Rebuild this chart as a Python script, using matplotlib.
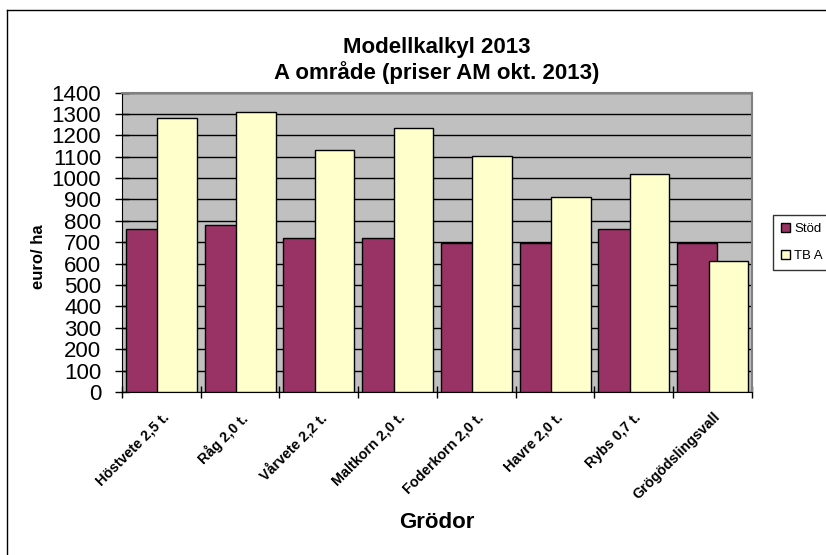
import matplotlib.pyplot as plt
import numpy as np

plt.rcParams['font.family'] = ['Liberation Sans', 'DejaVu Sans']

grodor = ['Höstvete 2,5 t.', 'Råg 2,0 t.', 'Vårvete 2,2 t.', 'Maltkorn 2,0 t.',
          'Foderkorn 2,0 t.', 'Havre 2,0 t.', 'Rybs 0,7 t.', 'Grögödslingsvall']
stod = [762, 781, 721, 721, 698, 698, 762, 698]
tb_a = [1280, 1310, 1130, 1236, 1105, 913, 1021, 612]
yticks = list(range(0, 1401, 100))

fig = plt.figure(figsize=(8.26, 5.55), dpi=100)
ax = fig.add_axes([0.1477, 0.2937, 0.7627, 0.5396])
ax.set_facecolor('#C0C0C0')

x = np.arange(len(grodor))
ax.bar(x - 0.2, stod, width=0.5, color='#993366', edgecolor='black', linewidth=1,
       label='Stöd', zorder=3)
ax.bar(x + 0.2, tb_a, width=0.5, color='#FFFFCC', edgecolor='black', linewidth=1,
       label='TB A', zorder=4)

ax.set_xlim(-0.5, len(grodor) - 0.5)
ax.set_ylim(0, 1400)
ax.set_yticks(yticks)
ax.set_yticklabels([str(v) for v in yticks], fontsize=16)
ax.yaxis.grid(True, color='black', linewidth=1, zorder=1)
ax.set_axisbelow(True)

ax.set_xticks(x)
ax.set_xticklabels(grodor, rotation=45, ha='right', rotation_mode='anchor',
                   fontsize=10.3, fontweight='bold')
ax.set_xticks(np.arange(-0.5, len(grodor)), minor=True)
ax.tick_params(axis='x', which='major', length=0, pad=13)
ax.tick_params(axis='x', which='minor', direction='inout', length=8, width=1)
ax.tick_params(axis='y', direction='inout', length=10, width=1, pad=10)

for side in ['top', 'right']:
    ax.spines[side].set_color('#808080')
    ax.spines[side].set_linewidth(1.5)
ax.spines['left'].set_color('black')
ax.spines['bottom'].set_color('black')

ax.set_ylabel('euro/ ha', fontsize=12, fontweight='bold')
ax.yaxis.set_label_coords(-0.12, 0.453)
ax.set_xlabel('Grödor', fontsize=16, fontweight='bold')
ax.xaxis.set_label_coords(0.5, -0.40)

fig.text(0.529, 0.915, 'Modellkalkyl 2013', ha='center', va='center',
         fontsize=16, fontweight='bold')
fig.text(0.529, 0.87, 'A område (priser AM okt. 2013)', ha='center', va='center',
         fontsize=16, fontweight='bold')

leg = fig.legend(loc='upper left', bbox_to_anchor=(773 / 826, 1 - 215 / 555),
                 fontsize=9.5, frameon=True, fancybox=False, edgecolor='black',
                 handlelength=0.7, handleheight=0.7, handletextpad=0.3,
                 borderpad=0.6, labelspacing=1.1, borderaxespad=0)
leg.get_frame().set_linewidth(1)

# outer chart border (top and left visible)
fig.add_artist(plt.Line2D([7 / 826, 1], [1 - 9.5 / 555, 1 - 9.5 / 555],
                          color='black', linewidth=1))
fig.add_artist(plt.Line2D([7 / 826, 7 / 826], [0, 1 - 9.5 / 555],
                          color='black', linewidth=1))

fig.savefig('out.png', dpi=100)
